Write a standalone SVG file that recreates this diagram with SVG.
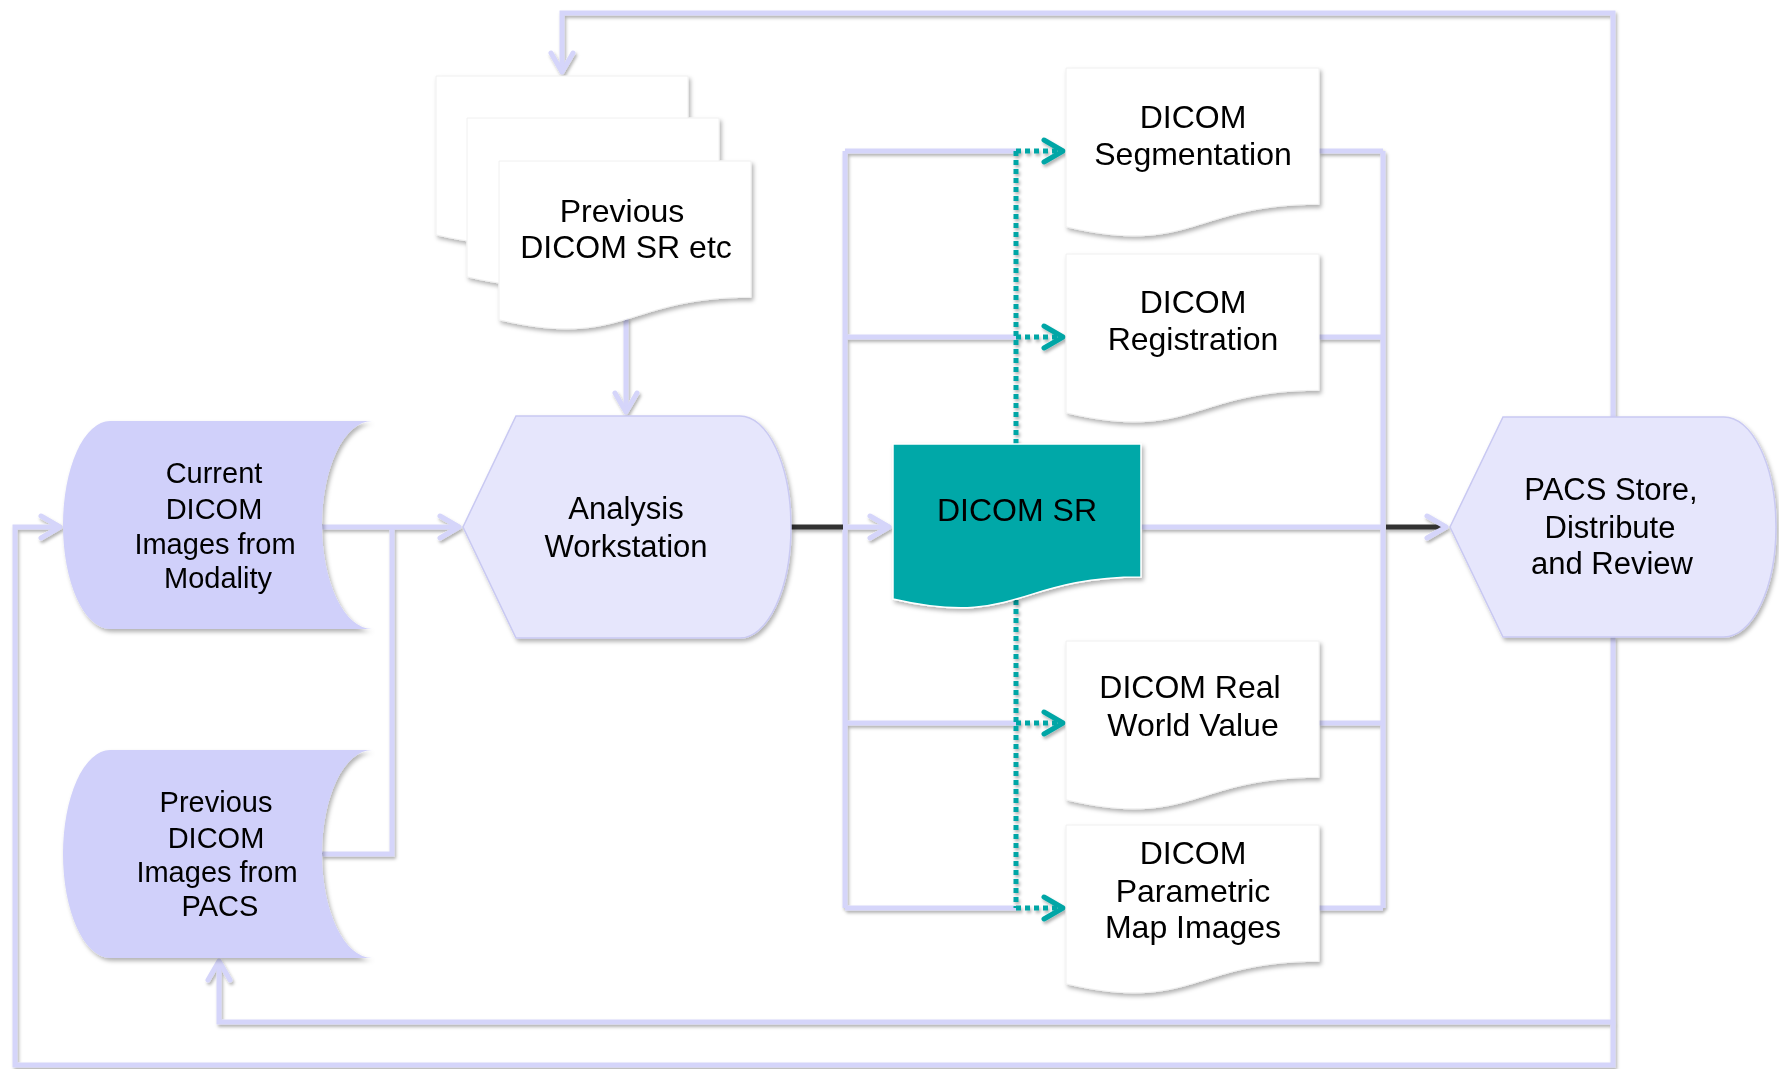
<svg xmlns="http://www.w3.org/2000/svg" width="1779" height="1069" viewBox="0 0 1779 1069">
<defs>
<style>
.ln{fill:none;stroke:#d5d5fa;stroke-width:5}
.dk{fill:none;stroke:#333333;stroke-width:5}
.tl{fill:none;stroke:#00a6a6;stroke-width:5;stroke-dasharray:5 4}
.stor{fill:#d0d0fa}
.disp{fill:#e6e6fc;stroke:#c9c9f2;stroke-width:1.5}
.doc{fill:#ffffff;stroke:#f0f0f0;stroke-width:1}
.sr{fill:#00a8a8;stroke:#ffffff;stroke-width:1.5}
text{font-family:"Liberation Sans",Arial,sans-serif;fill:#000;text-anchor:middle}
.t29{font-size:29px}
.t31{font-size:31px}
.t32{font-size:32px}
</style>
<filter id="sh" filterUnits="userSpaceOnUse" x="0" y="0" width="1779" height="1069">
<feDropShadow dx="2" dy="3" stdDeviation="2" flood-color="#000" flood-opacity="0.3"/>
</filter>
<filter id="shl" filterUnits="userSpaceOnUse" x="0" y="0" width="1779" height="1069">
<feDropShadow dx="1.5" dy="2.5" stdDeviation="1.5" flood-color="#000" flood-opacity="0.3"/>
</filter>
<marker id="al" viewBox="-24 -14 28 28" refX="0" refY="0" markerWidth="28" markerHeight="28" markerUnits="userSpaceOnUse" orient="auto">
<path d="M-19,-11 L0,0 L-19,11" fill="none" stroke="#d5d5fa" stroke-width="5" stroke-linecap="round" stroke-linejoin="round"/>
</marker>
<marker id="at" viewBox="-24 -14 28 28" refX="0" refY="0" markerWidth="28" markerHeight="28" markerUnits="userSpaceOnUse" orient="auto">
<path d="M-19,-11 L0,0 L-19,11" fill="none" stroke="#00a6a6" stroke-width="5" stroke-linecap="round" stroke-linejoin="round"/>
</marker>
</defs>
<rect width="1779" height="1069" fill="#ffffff"/>

<g id="connectors" filter="url(#shl)">
<path class="ln" d="M322,527 H459" marker-end="url(#al)"/>
<path class="ln" d="M322,854 H392 V527"/>
<path class="ln" d="M626,318 V412" marker-end="url(#al)"/>
<path class="ln" d="M845,151 V908"/>
<path class="ln" d="M845,151 H1016 M845,337 H1016 M845,723 H1016 M845,908 H1016"/>
<path class="ln" d="M845,527 H889" marker-end="url(#al)"/>
<path class="ln" d="M1319,151 H1383 M1319,337 H1383 M1319,723 H1383 M1319,908 H1383"/>
<path class="ln" d="M1383,151 V908"/>
<path class="ln" d="M1141,527 H1383"/>
<path class="dk" d="M791,527 H843"/>
<path class="dk" d="M1386,527 H1446" marker-end="url(#al)"/>
<path class="ln" d="M1613,417 V13 H562 V72" marker-end="url(#al)"/>
<path class="ln" d="M1613,637 V1022 H219 V961" marker-end="url(#al)"/>
<path class="ln" d="M1613,1022 V1065 H15 V527 H60" marker-end="url(#al)"/>
<path class="tl" d="M1016,444 V151"/>
<path class="tl" d="M1016,600 V908"/>
<path class="tl" d="M1016,151 H1063" marker-end="url(#at)"/>
<path class="tl" d="M1016,337 H1063" marker-end="url(#at)"/>
<path class="tl" d="M1016,723 H1063" marker-end="url(#at)"/>
<path class="tl" d="M1016,908 H1063" marker-end="url(#at)"/>
</g>

<g id="current-images" filter="url(#sh)">
<path class="stor" d="M110,421 L372,421 A50,104 0 0 0 322,525 A50,104 0 0 0 372,629 L110,629 A47,104 0 0 1 63,525 A47,104 0 0 1 110,421 Z"/>
<text class="t29" x="214" y="483">Current</text>
<text class="t29" x="214" y="519">DICOM</text>
<text class="t29" x="215" y="554">Images from</text>
<text class="t29" x="218" y="588">Modality</text>
</g>

<g id="previous-images" filter="url(#sh)">
<path class="stor" d="M110,750 L372,750 A50,104 0 0 0 322,854 A50,104 0 0 0 372,958 L110,958 A47,104 0 0 1 63,854 A47,104 0 0 1 110,750 Z"/>
<text class="t29" x="216" y="812">Previous</text>
<text class="t29" x="216" y="848">DICOM</text>
<text class="t29" x="217" y="882">Images from</text>
<text class="t29" x="220" y="916">PACS</text>
</g>

<g id="previous-sr" filter="url(#sh)">
<path class="doc" d="M436,76 H688 V212.3 C562,212.3 562,264.3 436,234.8 Z"/>
<path class="doc" d="M467,118 H719 V254.3 C593,254.3 593,306.3 467,276.8 Z"/>
<path class="doc" d="M499,161 H751 V297.3 C625,297.3 625,349.3 499,319.8 Z"/>
<text class="t32" x="622" y="222">Previous</text>
<text class="t32" x="626" y="258">DICOM SR etc</text>
</g>

<g id="analysis-workstation" filter="url(#sh)">
<path class="disp" d="M516,416 L740,416 A51,111 0 0 1 791,527 A51,111 0 0 1 740,638 L516,638 L463,527 Z"/>
<text class="t31" x="626" y="519">Analysis</text>
<text class="t31" x="626" y="557">Workstation</text>
</g>

<g id="dicom-sr" filter="url(#sh)">
<path class="sr" d="M893,444 H1141 V577.1 C1017,577.1 1017,627.8 893,599 Z"/>
<text class="t32" x="1017" y="521">DICOM SR</text>
</g>

<g id="dicom-segmentation" filter="url(#sh)">
<path class="doc" d="M1066,68 H1319 V204.3 C1192.5,204.3 1192.5,256.3 1066,226.8 Z"/>
<text class="t32" x="1193" y="128">DICOM</text>
<text class="t32" x="1193" y="165">Segmentation</text>
</g>

<g id="dicom-registration" filter="url(#sh)">
<path class="doc" d="M1066,254 H1319 V390.3 C1192.5,390.3 1192.5,442.3 1066,412.8 Z"/>
<text class="t32" x="1193" y="313">DICOM</text>
<text class="t32" x="1193" y="350">Registration</text>
</g>

<g id="dicom-real-world-value" filter="url(#sh)">
<path class="doc" d="M1066,641 H1319 V777.3 C1192.5,777.3 1192.5,829.3 1066,799.8 Z"/>
<text class="t32" x="1190" y="698">DICOM Real</text>
<text class="t32" x="1193" y="736">World Value</text>
</g>

<g id="dicom-parametric-map" filter="url(#sh)">
<path class="doc" d="M1066,825 H1319 V961.3 C1192.5,961.3 1192.5,1013.3 1066,983.8 Z"/>
<text class="t32" x="1193" y="864">DICOM</text>
<text class="t32" x="1193" y="902">Parametric</text>
<text class="t32" x="1193" y="938">Map Images</text>
</g>

<g id="pacs" filter="url(#sh)">
<path class="disp" d="M1503,417 L1724,417 A52,110 0 0 1 1776,527 A52,110 0 0 1 1724,637 L1503,637 L1450,527 Z"/>
<text class="t31" x="1611" y="500">PACS Store,</text>
<text class="t31" x="1610" y="538">Distribute</text>
<text class="t31" x="1612" y="574">and Review</text>
</g>
</svg>
